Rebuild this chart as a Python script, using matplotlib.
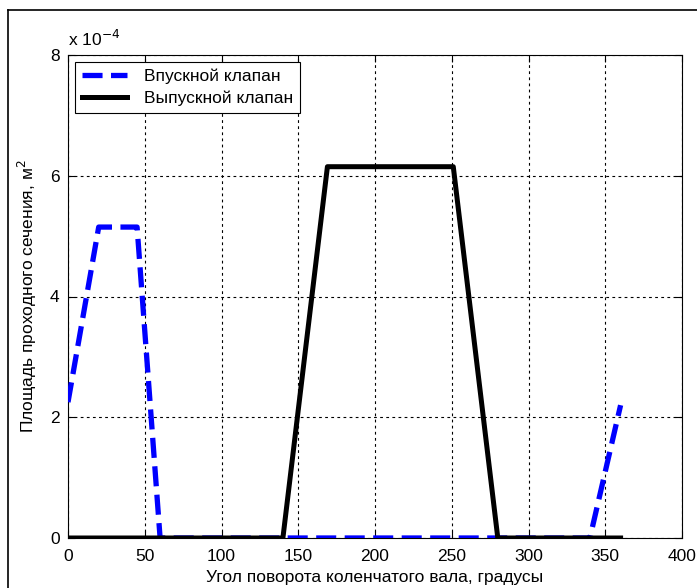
import matplotlib
matplotlib.use("Agg")
import matplotlib.pyplot as plt
from matplotlib.lines import Line2D
from matplotlib.ticker import FuncFormatter

plt.rcParams["font.family"] = ["Liberation Sans", "DejaVu Sans"]

# crank angle (deg) and flow area (m^2)
inlet_angle = [0, 20, 45, 60, 340, 360]
inlet_area = [2.25e-4, 5.15e-4, 5.15e-4, 0, 0, 2.2e-4]
exhaust_angle = [0, 140, 169, 251, 280, 360]
exhaust_area = [0, 0, 6.15e-4, 6.15e-4, 0, 0]

labels = ["Впускной клапан", "Выпускной клапан"]

W, H = 697, 588
FS = 12.5
fig = plt.figure(figsize=(W / 100, H / 100), dpi=100)
ax = fig.add_axes([68 / W, 1 - 538 / H, (682 - 68) / W, (538 - 55) / H])

ax.plot(inlet_angle, inlet_area, color="#0000ff", lw=3.8, ls=(0, (3.8, 1.6)),
        label=labels[0], zorder=3)
ax.plot(exhaust_angle, exhaust_area, color="black", lw=3.6,
        label=labels[1], zorder=4)

ax.set_xlim(0, 400)
ax.set_ylim(0, 8e-4)
ax.set_xticks(range(0, 401, 50))
ax.set_yticks([0, 2e-4, 4e-4, 6e-4, 8e-4])
ax.yaxis.set_major_formatter(FuncFormatter(lambda v, p: f"{v / 1e-4:g}"))
ax.grid(True, color="black", ls=(0, (2.5, 3)), lw=0.8)
ax.tick_params(direction="in", top=True, right=True, length=5,
               labelsize=FS)
ax.tick_params(axis="x", pad=8)
ax.tick_params(axis="y", pad=6)
for s in ax.spines.values():
    s.set_linewidth(0.8)

ax.text(0, 1.012, "x 10$^{-4}$", transform=ax.transAxes, fontsize=FS,
        ha="left", va="bottom")
ax.set_xlabel("Угол поворота коленчатого вала, градусы", fontsize=FS, labelpad=4)
ax.set_ylabel("Площадь проходного сечения, м$^2$", fontsize=FS, labelpad=8)

leg = ax.legend(loc="upper left", fontsize=FS, fancybox=False,
                framealpha=1, edgecolor="black", borderaxespad=0.4,
                handlelength=2.6, borderpad=0.4, labelspacing=0.35,
                handletextpad=1.0)
leg.get_frame().set_linewidth(0.8)

fig.add_artist(Line2D([8 / W, 8 / W], [0, 1 - 10 / H], color="black", lw=1.2))
fig.add_artist(Line2D([8 / W, 1], [1 - 10 / H, 1 - 10 / H], color="black", lw=1.2))

fig.savefig("out.png", dpi=100)
